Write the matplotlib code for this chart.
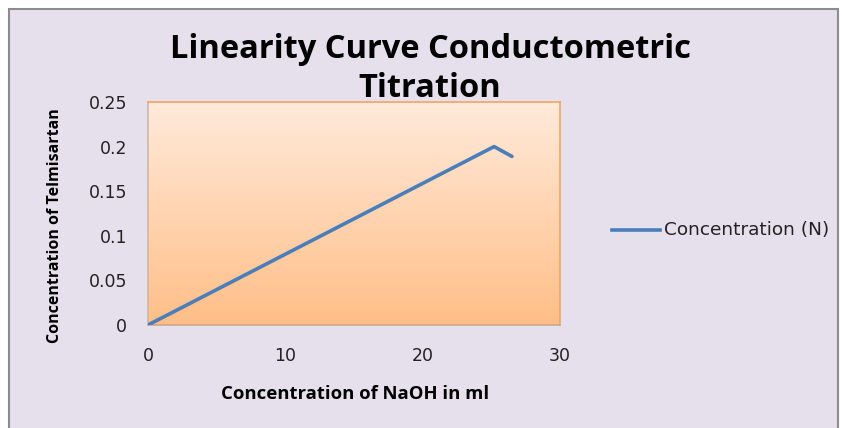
import matplotlib
matplotlib.use("Agg")
import matplotlib.pyplot as plt
import numpy as np
from matplotlib.patches import Rectangle
from matplotlib.lines import Line2D

naoh_ml = [0, 25.2, 26.5]
conc_n = [0.0, 0.2, 0.189]
series_name = "Concentration (N)"
x_ticks = [0, 10, 20, 30]
y_ticks = [0, 0.05, 0.1, 0.15, 0.2, 0.25]
y_tick_labels = ["0", "0.05", "0.1", "0.15", "0.2", "0.25"]
title = "Linearity Curve Conductometric\nTitration"
xlabel = "Concentration of NaOH in ml"
ylabel = "Concentration of Telmisartan"

W, H = 842, 428
fig = plt.figure(figsize=(W/100, H/100), dpi=100)
fig.patch.set_facecolor("white")
# chart area background with gray border
bg = fig.add_axes([0, 0, 1, 1], zorder=0)
bg.set_xlim(0, W); bg.set_ylim(H, 0); bg.axis("off")
bg.add_patch(Rectangle((9, 9), 829, H, facecolor="#E5E0EC", edgecolor="#8C8C8C", linewidth=1.5))

ax = fig.add_axes([148/W, 1-325/H, (560-148)/W, (325-102)/H], zorder=2)
ax.set_xlim(0, 30)
ax.set_ylim(0, 0.25)
# gradient background
grad = np.linspace(0, 1, 256).reshape(-1, 1)
top = np.array([255, 234, 219]) / 255
bot = np.array([255, 190, 135]) / 255
img = top[None, None, :] * (1 - grad[:, :, None]) + bot[None, None, :] * grad[:, :, None]
ax.imshow(img, extent=[0, 1, 0, 1], transform=ax.transAxes, aspect="auto", zorder=0)
for s in ax.spines.values():
    s.set_color("#F4A460")
    s.set_linewidth(1.2)
ax.spines["left"].set_color("#C8B8B0")
ax.spines["bottom"].set_color("#C8A890")

ax.plot(naoh_ml, conc_n, color="#4A7EBB", linewidth=2.6, solid_capstyle="round", zorder=3)

ax.set_xticks(x_ticks)
ax.set_yticks(y_ticks)
ax.set_yticklabels(y_tick_labels)
ax.tick_params(length=0, labelsize=12.5, colors="#222222")
ax.tick_params(axis="x", pad=16)
ax.tick_params(axis="y", pad=15)
for lbl in ax.get_xticklabels() + ax.get_yticklabels():
    lbl.set_fontfamily("DejaVu Sans")

fig.text(430/W, 1-69/H, title, ha="center", va="center", fontsize=23.5, fontweight="bold",
         family="Open Sans", linespacing=1.25, zorder=5)
fig.text(355/W, 1-394/H, xlabel, ha="center", va="center", fontsize=13.3, fontweight="bold",
         family="Open Sans", zorder=5)
fig.text(55/W, 1-226/H, ylabel, ha="center", va="center", fontsize=11.5, fontweight="bold",
         family="Open Sans", rotation=90, zorder=5)

# legend
fig.lines.append(Line2D([612/W, 660/W], [1-230/H, 1-230/H], transform=fig.transFigure,
                        color="#4A7EBB", linewidth=2.6, zorder=5))
fig.text(664/W, 1-230/H, series_name, ha="left", va="center", fontsize=13.3, family="DejaVu Sans",
         color="#222222", zorder=5)

fig.savefig("out.png", dpi=100)
